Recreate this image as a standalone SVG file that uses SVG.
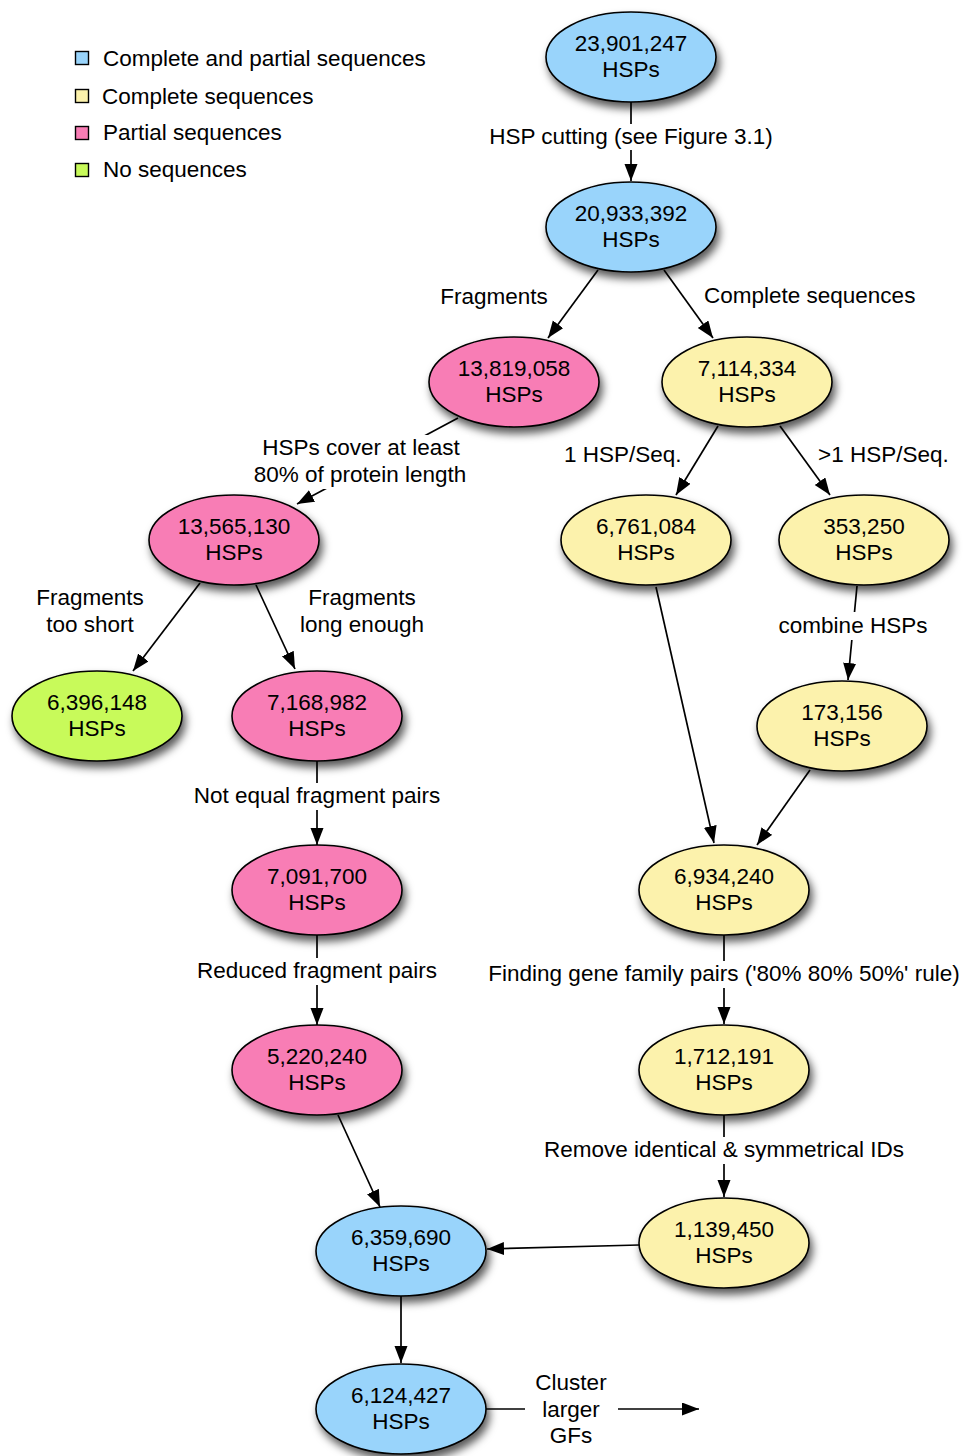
<svg xmlns="http://www.w3.org/2000/svg" width="965" height="1456" viewBox="0 0 965 1456">
  <style>
    text { font-family: "Liberation Sans", Arial, sans-serif; font-size: 22.5px; fill: #000; }
    .c { text-anchor: middle; }
    .node ellipse { stroke: #000; stroke-width: 1.6; filter: url(#shadow); }
    .blue { fill: #99d4fb; }
    .yellow { fill: #fcf2ac; }
    .pink { fill: #f87db5; }
    .green { fill: #c8fa5a; }
    .edge { stroke: #000; stroke-width: 1.7; fill: none; }
    .arrow { marker-end: url(#head); }
    .bg { fill: #fff; }
    .key { stroke: #000; stroke-width: 1.4; }
  </style>
  <defs>
    <filter id="shadow" x="-20%" y="-20%" width="150%" height="160%">
      <feDropShadow dx="3" dy="6" stdDeviation="4" flood-color="#000" flood-opacity="0.65"/>
    </filter>
    <marker id="head" markerUnits="userSpaceOnUse" markerWidth="18" markerHeight="14" refX="17" refY="6.5" orient="auto">
      <path d="M0,0 L17,6.5 L0,13 z" fill="#000"/>
    </marker>
  </defs>

  <rect width="965" height="1456" fill="#fff"/>

  <!-- legend -->
  <g id="legend">
    <rect class="key blue" x="75.5" y="51.5" width="13" height="13"/>
    <text x="103" y="66">Complete and partial sequences</text>
    <rect class="key yellow" x="75.5" y="89.5" width="13" height="13"/>
    <text x="102" y="104">Complete sequences</text>
    <rect class="key pink" x="75.5" y="126.5" width="13" height="13"/>
    <text x="103" y="140">Partial sequences</text>
    <rect class="key green" x="75.5" y="163.5" width="13" height="13"/>
    <text x="103" y="177">No sequences</text>
  </g>

  <!-- nodes -->
  <g id="n23901247" class="node">
    <ellipse class="blue" cx="631" cy="57" rx="85" ry="45"/>
    <text class="c" x="631" y="51">23,901,247</text>
    <text class="c" x="631" y="77">HSPs</text>
  </g>
  <g id="n20933392" class="node">
    <ellipse class="blue" cx="631" cy="227" rx="85" ry="45"/>
    <text class="c" x="631" y="221">20,933,392</text>
    <text class="c" x="631" y="247">HSPs</text>
  </g>
  <g id="n13819058" class="node">
    <ellipse class="pink" cx="514" cy="382" rx="85" ry="45"/>
    <text class="c" x="514" y="376">13,819,058</text>
    <text class="c" x="514" y="402">HSPs</text>
  </g>
  <g id="n7114334" class="node">
    <ellipse class="yellow" cx="747" cy="382" rx="85" ry="45"/>
    <text class="c" x="747" y="376">7,114,334</text>
    <text class="c" x="747" y="402">HSPs</text>
  </g>
  <g id="n13565130" class="node">
    <ellipse class="pink" cx="234" cy="540" rx="85" ry="45"/>
    <text class="c" x="234" y="534">13,565,130</text>
    <text class="c" x="234" y="560">HSPs</text>
  </g>
  <g id="n6761084" class="node">
    <ellipse class="yellow" cx="646" cy="540" rx="85" ry="45"/>
    <text class="c" x="646" y="534">6,761,084</text>
    <text class="c" x="646" y="560">HSPs</text>
  </g>
  <g id="n353250" class="node">
    <ellipse class="yellow" cx="864" cy="540" rx="85" ry="45"/>
    <text class="c" x="864" y="534">353,250</text>
    <text class="c" x="864" y="560">HSPs</text>
  </g>
  <g id="n6396148" class="node">
    <ellipse class="green" cx="97" cy="716" rx="85" ry="45"/>
    <text class="c" x="97" y="710">6,396,148</text>
    <text class="c" x="97" y="736">HSPs</text>
  </g>
  <g id="n7168982" class="node">
    <ellipse class="pink" cx="317" cy="716" rx="85" ry="45"/>
    <text class="c" x="317" y="710">7,168,982</text>
    <text class="c" x="317" y="736">HSPs</text>
  </g>
  <g id="n173156" class="node">
    <ellipse class="yellow" cx="842" cy="726" rx="85" ry="45"/>
    <text class="c" x="842" y="720">173,156</text>
    <text class="c" x="842" y="746">HSPs</text>
  </g>
  <g id="n7091700" class="node">
    <ellipse class="pink" cx="317" cy="890" rx="85" ry="45"/>
    <text class="c" x="317" y="884">7,091,700</text>
    <text class="c" x="317" y="910">HSPs</text>
  </g>
  <g id="n6934240" class="node">
    <ellipse class="yellow" cx="724" cy="890" rx="85" ry="45"/>
    <text class="c" x="724" y="884">6,934,240</text>
    <text class="c" x="724" y="910">HSPs</text>
  </g>
  <g id="n5220240" class="node">
    <ellipse class="pink" cx="317" cy="1070" rx="85" ry="45"/>
    <text class="c" x="317" y="1064">5,220,240</text>
    <text class="c" x="317" y="1090">HSPs</text>
  </g>
  <g id="n1712191" class="node">
    <ellipse class="yellow" cx="724" cy="1070" rx="85" ry="45"/>
    <text class="c" x="724" y="1064">1,712,191</text>
    <text class="c" x="724" y="1090">HSPs</text>
  </g>
  <g id="n1139450" class="node">
    <ellipse class="yellow" cx="724" cy="1243" rx="85" ry="45"/>
    <text class="c" x="724" y="1237">1,139,450</text>
    <text class="c" x="724" y="1263">HSPs</text>
  </g>
  <g id="n6359690" class="node">
    <ellipse class="blue" cx="401" cy="1251" rx="85" ry="45"/>
    <text class="c" x="401" y="1245">6,359,690</text>
    <text class="c" x="401" y="1271">HSPs</text>
  </g>
  <g id="n6124427" class="node">
    <ellipse class="blue" cx="401" cy="1409" rx="85" ry="45"/>
    <text class="c" x="401" y="1403">6,124,427</text>
    <text class="c" x="401" y="1429">HSPs</text>
  </g>

  <!-- connectors and their labels -->
  <g id="connectors">
    <!-- HSP cutting -->
    <line class="edge arrow" x1="631" y1="102" x2="631" y2="181"/>
    <rect class="bg" x="485" y="124" width="292" height="26"/>
    <text class="c" x="631" y="144">HSP cutting (see Figure 3.1)</text>

    <!-- split into fragments / complete sequences -->
    <line class="edge arrow" x1="598" y1="270" x2="548" y2="338"/>
    <text class="c" x="494" y="304">Fragments</text>
    <line class="edge arrow" x1="664" y1="270" x2="713" y2="338"/>
    <text x="704" y="303">Complete sequences</text>

    <!-- coverage filter -->
    <line class="edge arrow" x1="458" y1="418" x2="297" y2="504"/>
    <rect class="bg" x="250" y="435" width="219" height="54"/>
    <text class="c" x="361" y="455">HSPs cover at least</text>
    <text class="c" x="360" y="482">80% of protein length</text>

    <!-- HSPs per sequence -->
    <line class="edge arrow" x1="718" y1="426" x2="676" y2="495"/>
    <rect class="bg" x="553" y="441" width="130" height="28"/>
    <text x="564" y="462">1 HSP/Seq.</text>
    <line class="edge arrow" x1="780" y1="426" x2="830" y2="495"/>
    <rect class="bg" x="813" y="441" width="140" height="28"/>
    <text x="818" y="462">&gt;1 HSP/Seq.</text>

    <!-- fragment length -->
    <line class="edge arrow" x1="200" y1="583" x2="133" y2="671"/>
    <text class="c" x="90" y="605">Fragments</text>
    <text class="c" x="90" y="632">too short</text>
    <line class="edge arrow" x1="256" y1="585" x2="295" y2="669"/>
    <text class="c" x="362" y="605">Fragments</text>
    <text class="c" x="362" y="632">long enough</text>

    <!-- combine HSPs -->
    <line class="edge arrow" x1="857" y1="586" x2="848" y2="680"/>
    <rect class="bg" x="776" y="612" width="155" height="28"/>
    <text class="c" x="853" y="633">combine HSPs</text>

    <!-- merge of complete-sequence branches -->
    <line class="edge arrow" x1="656" y1="587" x2="714" y2="843"/>
    <line class="edge arrow" x1="810" y1="770" x2="757" y2="845"/>

    <!-- fragment pair filters -->
    <line class="edge arrow" x1="317" y1="761" x2="317" y2="845"/>
    <rect class="bg" x="190" y="783" width="254" height="27"/>
    <text class="c" x="317" y="803">Not equal fragment pairs</text>
    <line class="edge arrow" x1="317" y1="935" x2="317" y2="1025"/>
    <rect class="bg" x="194" y="958" width="246" height="27"/>
    <text class="c" x="317" y="978">Reduced fragment pairs</text>

    <!-- gene family pairs -->
    <line class="edge arrow" x1="724" y1="935" x2="724" y2="1024"/>
    <rect class="bg" x="484" y="961" width="480" height="27"/>
    <text class="c" x="724" y="981">Finding gene family pairs ('80% 80% 50%' rule)</text>
    <line class="edge arrow" x1="724" y1="1115" x2="724" y2="1197"/>
    <rect class="bg" x="540" y="1137" width="368" height="27"/>
    <text class="c" x="724" y="1157">Remove identical &amp; symmetrical IDs</text>

    <!-- union -->
    <line class="edge arrow" x1="338" y1="1115" x2="380" y2="1207"/>
    <line class="edge arrow" x1="639" y1="1245" x2="487" y2="1249"/>
    <line class="edge arrow" x1="401" y1="1296" x2="401" y2="1363"/>

    <!-- final clustering step -->
    <line class="edge arrow" x1="486" y1="1409" x2="699" y2="1409"/>
    <rect class="bg" x="525" y="1368" width="93" height="86"/>
    <text class="c" x="571" y="1390">Cluster</text>
    <text class="c" x="571" y="1417">larger</text>
    <text class="c" x="571" y="1443">GFs</text>
  </g>
</svg>
